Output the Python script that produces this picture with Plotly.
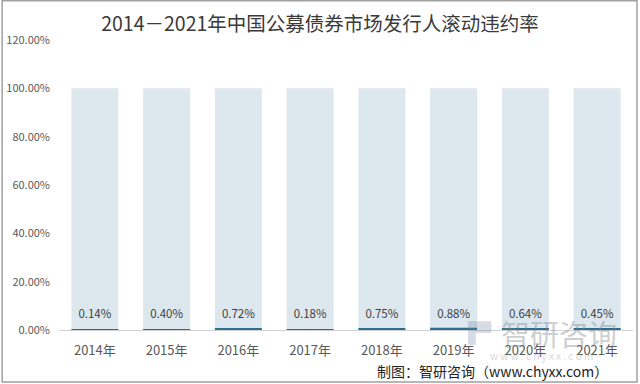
import plotly.graph_objects as go

years = ["2014年", "2015年", "2016年", "2017年", "2018年", "2019年", "2020年", "2021年"]
rates = [0.14, 0.40, 0.72, 0.18, 0.75, 0.88, 0.64, 0.45]
full = [100] * len(years)
labels = [f"{v:.2f}%" for v in rates]
y_ticks = [0, 20, 40, 60, 80, 100, 120]
y_tick_text = [f"{v:.2f}%" for v in y_ticks]

font_cn = "Noto Sans CJK SC, Microsoft YaHei, sans-serif"

fig = go.Figure()
fig.add_trace(go.Bar(x=years, y=full, marker=dict(color="#dde7ee", line=dict(width=0)),
                     hoverinfo="skip", showlegend=False))
fig.add_trace(go.Bar(x=years, y=rates, marker=dict(color="#2b6f8f", line=dict(width=0)),
                     showlegend=False))
fig.add_trace(go.Scatter(x=years, y=[6.0] * len(years), mode="text", text=labels,
                         textfont=dict(size=11.5, color="#404040", family=font_cn),
                         showlegend=False, hoverinfo="skip"))

fig.update_layout(
    width=640, height=384,
    barmode="overlay", bargap=0.345,
    paper_bgcolor="white", plot_bgcolor="white",
    margin=dict(l=59, r=7, t=40, b=54, autoexpand=False),
    title=dict(text="2014－2021年中国公募债券市场发行人滚动违约率", x=0.5, xref="container",
               y=1 - 24 / 384, yanchor="middle",
               font=dict(size=19.5, color="#3a3a3a", family=font_cn)),
    xaxis=dict(showgrid=False, showline=True, linecolor="#d0d0d0", linewidth=1,
               automargin=False, ticks="", ticklabelstandoff=8,
               tickfont=dict(size=13, color="#595959", family=font_cn)),
    yaxis=dict(range=[0, 120], tickvals=y_ticks, ticktext=y_tick_text,
               showgrid=False, zeroline=False, showline=False, automargin=False,
               ticklabelstandoff=8,
               tickfont=dict(size=11, color="#595959", family=font_cn)),
    annotations=[
        dict(text="智研咨询", xref="paper", yref="paper", x=0.871, y=-0.01,
             xanchor="center", yanchor="middle", showarrow=False,
             font=dict(size=29, color="rgba(120,130,140,0.40)", family=font_cn)),
        dict(text="w w w . c h y x x . c o m", xref="paper", yref="paper", x=0.84, y=-0.088,
             xanchor="center", yanchor="middle", showarrow=False,
             font=dict(size=10, color="rgba(140,150,160,0.40)", family=font_cn)),
        dict(text="▐▀", xref="paper", yref="paper", x=0.726, y=-0.01,
             xanchor="center", yanchor="middle", showarrow=False,
             font=dict(size=20, color="rgba(110,130,160,0.30)", family="DejaVu Sans")),
        dict(text="制图：智研咨询（www.chyxx.com）", xref="paper", yref="paper",
             x=0.755, y=-0.141, xanchor="center", yanchor="middle", showarrow=False,
             font=dict(size=14, color="#222222", family=font_cn)),
    ],
    shapes=[
        dict(type="rect", xref="paper", yref="paper", x0=-0.099, x1=1.007, y0=-0.179, y1=1.135,
             line=dict(color="#a0a0a0", width=1.5), fillcolor="rgba(0,0,0,0)", layer="above"),
    ],
)

fig.write_html("out.html", config={"displayModeBar": False},
               post_script="document.body.style.margin='0';document.body.style.overflow='hidden';")
